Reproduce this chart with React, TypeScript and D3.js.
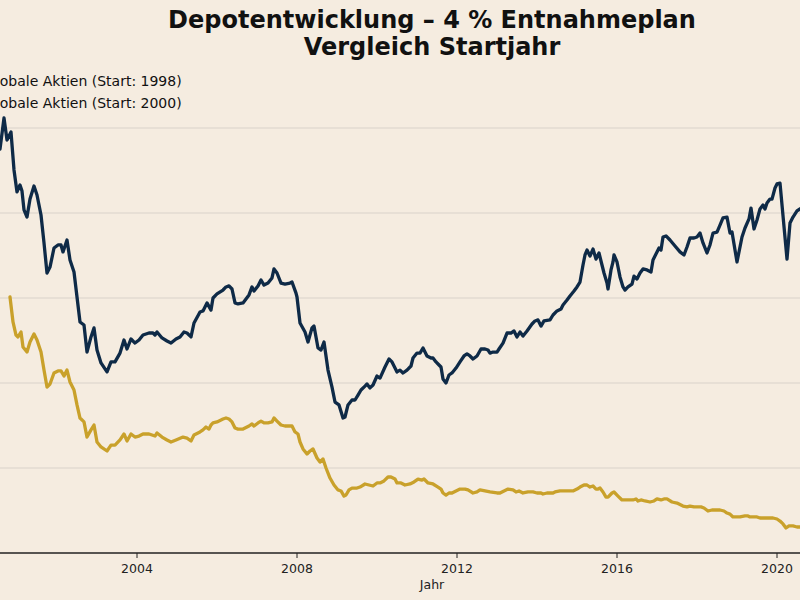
import React from "react";
import * as d3 from "d3";

// Decimal year (monthly steps) and depot value in thousand EUR
const navyYears = [2000.5,2000.575,2000.675,2000.75,2000.85,2000.925,2001.0,2001.075,2001.125,2001.175,2001.25,2001.325,2001.425,2001.5,2001.6,2001.675,2001.75,2001.825,2001.925,2002.025,2002.1,2002.15,2002.25,2002.325,2002.425,2002.5,2002.575,2002.675,2002.75,2002.85,2002.925,2003.0,2003.1,2003.25,2003.35,2003.45,2003.575,2003.675,2003.75,2003.85,2003.95,2004.05,2004.15,2004.3,2004.4,2004.45,2004.5,2004.625,2004.75,2004.85,2004.975,2005.075,2005.175,2005.25,2005.35,2005.425,2005.575,2005.65,2005.75,2005.85,2005.9,2006.0,2006.15,2006.225,2006.3,2006.375,2006.45,2006.525,2006.65,2006.8,2006.875,2006.925,2007.025,2007.1,2007.175,2007.275,2007.375,2007.425,2007.5,2007.6,2007.7,2007.825,2007.875,2007.975,2008.0,2008.075,2008.2,2008.275,2008.375,2008.425,2008.525,2008.6,2008.675,2008.775,2008.875,2008.95,2009.05,2009.15,2009.2,2009.275,2009.375,2009.45,2009.525,2009.6,2009.7,2009.75,2009.825,2009.9,2010.0,2010.075,2010.2,2010.3,2010.375,2010.5,2010.575,2010.65,2010.75,2010.85,2010.9,2011.0,2011.075,2011.15,2011.25,2011.35,2011.4,2011.475,2011.55,2011.6,2011.65,2011.725,2011.8,2011.875,2011.975,2012.075,2012.175,2012.25,2012.325,2012.4,2012.5,2012.6,2012.7,2012.775,2012.825,2012.9,2013.0,2013.05,2013.15,2013.25,2013.35,2013.425,2013.5,2013.575,2013.65,2013.75,2013.875,2013.95,2014.025,2014.1,2014.175,2014.325,2014.4,2014.5,2014.6,2014.65,2014.75,2014.825,2014.925,2015.0,2015.075,2015.15,2015.2,2015.25,2015.325,2015.4,2015.475,2015.55,2015.625,2015.675,2015.75,2015.775,2015.85,2015.9,2015.925,2016.0,2016.075,2016.15,2016.2,2016.275,2016.375,2016.425,2016.5,2016.575,2016.65,2016.75,2016.85,2016.9,2017.0,2017.05,2017.1,2017.15,2017.225,2017.325,2017.45,2017.575,2017.675,2017.75,2017.825,2017.925,2018.0,2018.075,2018.15,2018.25,2018.325,2018.4,2018.5,2018.575,2018.65,2018.75,2018.825,2018.875,2019.0,2019.125,2019.2,2019.3,2019.35,2019.425,2019.5,2019.575,2019.65,2019.7,2019.75,2019.825,2019.875,2019.95,2020.0,2020.075,2020.25,2020.325,2020.4,2020.5,2020.575,2020.725];
const navyValues = [245.9,237.6,255.9,242.9,247.6,225.3,212.4,216.5,212.9,201.8,197.6,208.2,215.9,210.6,198.8,182.4,164.7,168.2,179.4,181.2,181.2,177.1,184.1,172.4,165.3,150.6,135.9,134.1,118.2,127.1,132.4,119.4,111.8,106.5,112.4,112.4,117.6,125.3,120.0,125.9,123.5,125.3,128.2,129.4,129.4,128.2,130.0,126.5,124.7,123.5,125.9,127.1,130.0,129.4,127.1,135.3,141.8,142.4,147.1,142.9,150.0,152.4,154.7,156.5,157.1,155.3,147.1,146.5,147.1,151.8,156.5,154.1,157.1,160.6,157.6,158.8,161.8,167.1,164.7,158.8,158.2,158.8,159.4,152.9,150.6,135.3,130.0,124.1,132.4,133.5,120.6,119.4,124.1,107.6,97.6,88.8,87.1,79.4,80.0,87.1,90.0,90.0,92.9,95.9,98.2,99.4,97.1,98.8,104.1,102.9,109.4,114.1,112.4,106.5,107.6,105.9,107.6,110.0,114.7,117.6,117.6,120.6,115.9,114.7,114.7,112.4,110.6,109.4,102.4,100.0,104.7,105.9,108.8,112.4,115.9,117.1,115.9,114.1,115.9,120.0,120.0,119.4,117.6,118.2,118.2,120.0,123.5,129.4,129.4,130.6,127.1,130.0,127.6,130.6,134.7,136.5,137.1,133.5,136.5,137.1,140.0,142.4,143.5,145.9,148.8,151.2,154.1,156.5,159.4,169.4,175.3,178.2,174.7,178.8,172.9,176.5,169.4,164.7,158.8,155.3,166.5,171.2,175.3,171.2,162.4,156.5,154.7,156.5,158.2,162.9,161.2,164.7,167.1,166.5,165.3,172.4,177.1,179.4,178.2,185.9,186.5,184.1,180.6,177.1,175.3,180.0,185.3,185.3,185.9,188.2,182.4,176.5,181.2,188.2,188.8,192.9,197.1,197.6,188.2,188.8,171.2,185.9,191.2,196.5,202.9,190.6,195.9,202.4,204.7,202.4,205.9,208.2,208.2,214.7,217.1,217.6,172.9,194.1,197.6,201.2,202.4,204.7];

const goldYears = [2000.825,2000.9,2000.975,2001.025,2001.1,2001.15,2001.25,2001.325,2001.425,2001.5,2001.6,2001.675,2001.75,2001.825,2001.925,2002.025,2002.1,2002.175,2002.25,2002.325,2002.425,2002.5,2002.575,2002.675,2002.75,2002.85,2002.925,2003.0,2003.1,2003.25,2003.35,2003.45,2003.575,2003.675,2003.75,2003.85,2003.95,2004.05,2004.15,2004.3,2004.45,2004.5,2004.625,2004.75,2004.85,2004.975,2005.15,2005.25,2005.35,2005.425,2005.575,2005.65,2005.725,2005.8,2005.85,2005.9,2006.0,2006.15,2006.225,2006.3,2006.375,2006.45,2006.525,2006.65,2006.8,2006.875,2006.925,2007.025,2007.1,2007.175,2007.275,2007.375,2007.425,2007.5,2007.6,2007.7,2007.825,2007.875,2007.95,2008.025,2008.075,2008.15,2008.25,2008.325,2008.4,2008.5,2008.575,2008.65,2008.725,2008.825,2008.925,2009.025,2009.1,2009.175,2009.225,2009.3,2009.375,2009.5,2009.575,2009.7,2009.8,2009.9,2010.0,2010.075,2010.175,2010.275,2010.35,2010.45,2010.5,2010.6,2010.7,2010.825,2010.925,2011.025,2011.125,2011.175,2011.275,2011.4,2011.525,2011.6,2011.65,2011.725,2011.8,2011.875,2011.975,2012.075,2012.2,2012.275,2012.4,2012.5,2012.575,2012.7,2012.825,2013.0,2013.075,2013.175,2013.275,2013.4,2013.475,2013.55,2013.65,2013.775,2013.9,2014.0,2014.1,2014.15,2014.25,2014.4,2014.45,2014.575,2014.7,2014.8,2014.9,2015.0,2015.075,2015.175,2015.25,2015.325,2015.4,2015.475,2015.525,2015.575,2015.65,2015.725,2015.775,2015.875,2015.925,2016.025,2016.125,2016.25,2016.4,2016.475,2016.525,2016.6,2016.7,2016.825,2016.925,2017.0,2017.1,2017.175,2017.25,2017.375,2017.5,2017.65,2017.75,2017.825,2017.925,2018.1,2018.175,2018.275,2018.375,2018.575,2018.675,2018.75,2018.825,2018.9,2018.975,2019.075,2019.2,2019.275,2019.325,2019.5,2019.575,2019.75,2019.9,2020.0,2020.075,2020.15,2020.225,2020.3,2020.4,2020.5,2020.575,2020.725];
const goldValues = [150.6,135.9,128.2,127.1,130.0,121.2,118.2,124.1,128.8,125.3,118.2,107.6,97.6,99.4,105.9,107.1,107.1,104.1,107.6,100.6,95.9,87.1,79.4,77.1,68.2,72.4,75.3,65.3,62.4,60.0,63.5,63.5,66.5,70.0,65.9,70.0,68.2,68.8,70.0,70.0,68.8,70.6,68.2,66.5,65.3,66.5,68.2,67.6,65.9,69.4,71.2,72.4,74.1,72.9,75.3,76.5,77.1,78.8,79.4,78.8,77.1,73.5,72.9,72.9,74.7,75.9,74.7,76.5,77.6,76.5,76.5,77.1,79.4,77.6,75.3,74.7,74.7,74.7,71.2,70.0,65.3,61.2,58.2,60.0,61.2,55.9,53.5,55.3,50.0,44.1,40.0,37.1,36.5,33.5,34.1,37.1,38.2,38.2,38.8,40.6,40.0,39.4,41.2,41.2,42.4,44.7,44.7,43.5,41.2,41.2,40.0,40.6,41.8,43.5,42.9,43.5,41.2,40.6,38.8,37.6,35.3,34.1,35.3,35.3,36.5,37.6,37.6,37.1,35.3,35.9,37.1,36.5,35.9,35.3,35.3,36.5,37.6,37.1,35.9,36.5,35.3,35.9,35.9,35.3,35.3,34.7,35.3,35.3,35.9,36.5,36.5,36.5,36.5,37.6,38.8,40.0,40.0,38.8,39.4,37.6,37.6,38.2,35.9,32.9,32.9,35.3,35.9,33.5,31.2,31.2,31.2,31.8,30.6,31.2,30.6,30.0,30.6,31.8,31.2,31.8,31.8,30.0,29.4,27.6,27.1,27.6,27.1,27.1,26.5,24.7,25.3,25.3,24.7,23.5,22.9,21.2,21.2,21.2,21.8,21.8,21.2,21.2,20.6,20.6,20.6,20.0,18.8,17.1,14.7,15.9,15.9,15.3,15.3,14.7];

const seriesLabels = ["Globale Aktien (Start: 1998)", "Globale Aktien (Start: 2000)"];
const xTickYears = [2004, 2008, 2012, 2016, 2020];
const yGridValues = [50, 100, 150, 200, 250];
const titleLines = ["Depotentwicklung – 4 % Entnahmeplan", "Vergleich Startjahr"];
const xAxisLabel = "Jahr";

const BG = "#f5ece0";
const NAVY = "#0e2a47";
const GOLD = "#c9a12b";
const FONT = "DejaVu Sans, sans-serif";

export default function App() {
  const W = 800, H = 600;
  const x = d3.scaleLinear().domain([1998, 2021]).range([-103, 817]);
  const y = d3.scaleLinear().domain([0, 250]).range([553, 128]);
  const line = d3.line<[number, number]>().x(d => x(d[0])).y(d => y(d[1]));
  const navy = navyYears.map((t, i) => [t, navyValues[i]] as [number, number]);
  const gold = goldYears.map((t, i) => [t, goldValues[i]] as [number, number]);
  const [x0, x1] = x.range();

  return (
    <svg width={W} height={H} style={{ position: "absolute", left: 0, top: 0, display: "block" }} fontFamily={FONT}>
      <rect x={0} y={0} width={W} height={H} fill={BG} />
      {yGridValues.map(v => (
        <line key={v} x1={x0} x2={x1} y1={y(v)} y2={y(v)} stroke="#e2dbd2" strokeWidth={1.3} />
      ))}
      <path d={line(navy) ?? ""} fill="none" stroke={NAVY} strokeWidth={3.3} strokeLinejoin="round" strokeLinecap="round" />
      <path d={line(gold) ?? ""} fill="none" stroke={GOLD} strokeWidth={3.3} strokeLinejoin="round" strokeLinecap="round" />
      <line x1={x0} x2={x1} y1={y(0)} y2={y(0)} stroke="#222" strokeWidth={1.3} />
      {xTickYears.map(t => (
        <g key={t} transform={`translate(${x(t)},${y(0)})`}>
          <line y1={0} y2={5} stroke="#222" strokeWidth={1} />
          <text y={20} textAnchor="middle" fontSize={12.5} fill="#222">{t}</text>
        </g>
      ))}
      <text x={432} y={589} textAnchor="middle" fontSize={12.5} fill="#222">{xAxisLabel}</text>
      {titleLines.map((t, i) => (
        <text key={i} x={432} y={28 + i * 27} textAnchor="middle" fontSize={24} fontWeight="bold" fill="#111">{t}</text>
      ))}
      {seriesLabels.map((t, i) => (
        <text key={i} x={-15} y={86 + i * 22} fontSize={14} fill="#111">{t}</text>
      ))}
    </svg>
  );
}
